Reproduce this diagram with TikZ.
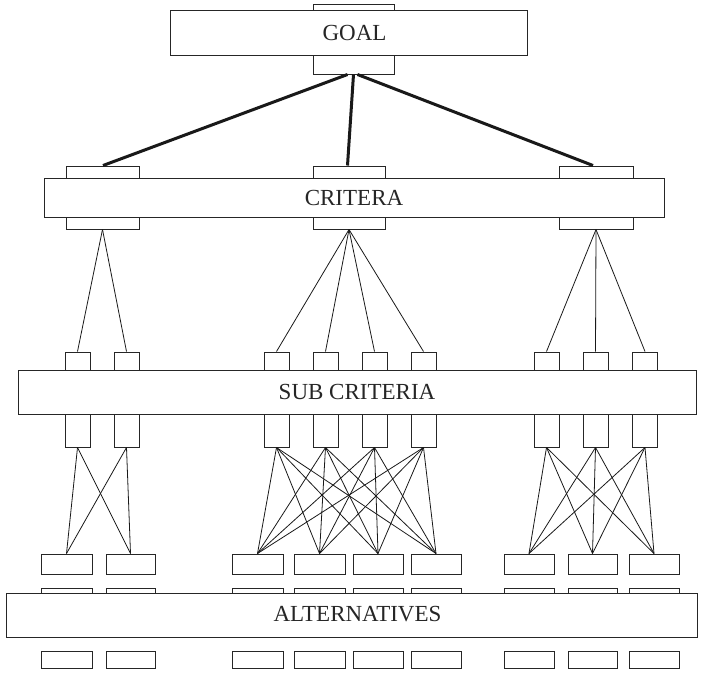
\documentclass[tikz,border=0pt]{standalone}
\usepackage{fontspec}
\setmainfont{Liberation Serif}
\tikzset{
  box/.style={draw=black!85, fill=white, line width=1pt, inner sep=0pt, rectangle},
  lbl/.style={inner sep=0pt, anchor=base, font=\fontsize{23}{26}\selectfont, text=black!85},
  link/.style={draw=black!90, line width=0.8pt},
  heavy/.style={draw=black!90, line width=3pt},
}
% box from corner coordinates (x1,y1,x2,y2) given in pixel units
\newcommand{\pbox}[5]{%
  \node[box, minimum width={(#4-#2)*1pt}, minimum height={(#5-#3)*1pt}]
    (#1) at ({(#2+#4)/2},{(#3+#5)/2}) {};}
\begin{document}
\begin{tikzpicture}[x=1pt,y=-1pt]
\useasboundingbox (0,0) rectangle (703,673);

% ---- goal ----
\pbox{gs}{313}{4.5}{394}{74}
\pbox{goal}{170.5}{10}{527}{55}
\node[lbl] (tgoal) at (354.5,40) {GOAL};

% ---- criteria ----
\pbox{c1}{66}{166}{139}{229}
\pbox{c2}{313}{166}{385}{229}
\pbox{c3}{559}{166}{633}{229}
\pbox{crit}{44}{178}{664}{217}
\node[lbl] (tcrit) at (354,205) {CRITERA};

% ---- sub criteria ----
\foreach \n/\c in {s1/77.5, s2/126.5, s3/276.5, s4/325.5, s5/374.5, s6/423.5, s7/546.5, s8/595.5, s9/645}
  \node[box, minimum width=25pt, minimum height=95pt] (\n) at (\c,399.5) {};
\pbox{sub}{18}{370}{696}{414}
\node[lbl] (tsub) at (357,399) {SUB CRITERIA};

% ---- alternatives ----
\foreach \n/\a/\b in {1/41/92, 2/106/155, 3/232/283, 4/294/345, 5/353/403, 6/411/461, 7/504/554, 8/568/617, 9/629/679}{
  \pbox{at\n}{\a}{554}{\b}{574}
  \pbox{am\n}{\a}{588}{\b}{637}
  \pbox{ab\n}{\a}{651}{\b}{668}
}
\pbox{alt}{6}{593}{697}{637}
\node[lbl] (talt) at (357.5,621.5) {ALTERNATIVES};

% ---- goal to criteria ----
\draw[heavy] ([xshift=-6pt]gs.south) -- ([xshift=0.5pt]c1.north);
\draw[heavy] (gs.south) -- ([xshift=-1.5pt]c2.north);
\draw[heavy] ([xshift=4pt]gs.south) -- ([xshift=-3pt]c3.north);

% ---- criteria to sub criteria ----
\foreach \s in {s1,s2} \draw[link] (c1.south) -- (\s.north);
\foreach \s in {s3,s4,s5,s6} \draw[link] (c2.south) -- (\s.north);
\foreach \s in {s7,s8,s9} \draw[link] (c3.south) -- (\s.north);

% ---- sub criteria to alternatives ----
\foreach \s in {s1,s2}
  \foreach \a in {1,2} \draw[link] (\s.south) -- (at\a.north);
\foreach \s in {s3,s4,s5,s6}
  \foreach \a in {3,4,5,6} \draw[link] (\s.south) -- (at\a.north);
\foreach \s in {s7,s8,s9}
  \foreach \a in {7,8,9} \draw[link] (\s.south) -- (at\a.north);
\end{tikzpicture}
\end{document}
